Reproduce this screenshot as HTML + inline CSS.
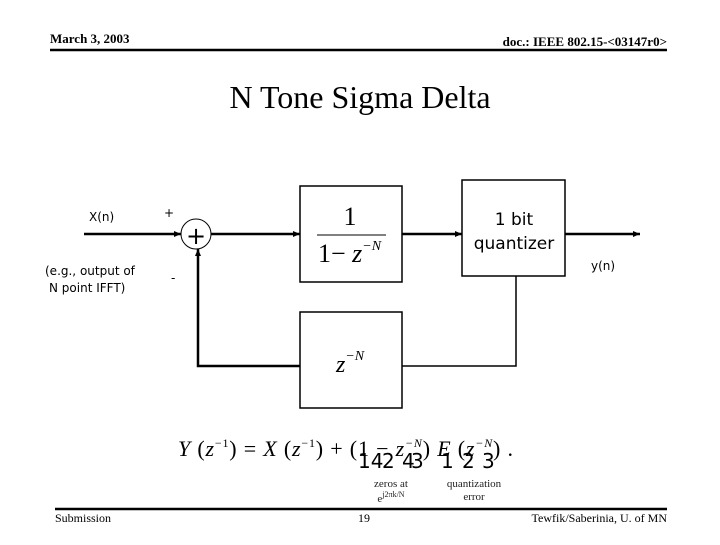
<!DOCTYPE html>
<html><head><meta charset="utf-8"><style>
body{margin:0;background:#fff;width:720px;height:540px;overflow:hidden}
</style></head><body>
<svg width="720" height="540" viewBox="0 0 720 540" xmlns="http://www.w3.org/2000/svg">
<defs><marker id="a" markerWidth="8" markerHeight="8" refX="7" refY="4" orient="auto" markerUnits="userSpaceOnUse"><path d="M0,1 L7,4 L0,7 z" fill="#000"/></marker></defs>
<g font-family="Liberation Serif, serif" font-weight="bold" font-size="13">
<text x="50" y="43">March 3, 2003</text>
<text x="667" y="46" text-anchor="end">doc.: IEEE 802.15-&lt;03147r0&gt;</text>
</g>
<line x1="50" y1="50" x2="667" y2="50" stroke="#000" stroke-width="2.5"/>
<text x="360" y="108" font-family="Liberation Serif, serif" font-size="32" text-anchor="middle">N Tone Sigma Delta</text>
<g font-family="DejaVu Sans, sans-serif" font-size="12" fill="#000">
<text x="89" y="221">X(n)</text>
<text x="45" y="275">(e.g., output of</text>
<text x="49" y="292">N point IFFT)</text>
<text x="164" y="217">+</text>
<text x="171" y="282">-</text>
<text x="591" y="270">y(n)</text>
</g>
<g stroke="#000" fill="none">
<line x1="84" y1="234" x2="181" y2="234" stroke-width="2.5" marker-end="url(#a)"/>
<circle cx="196" cy="234" r="15" stroke-width="1"/>
<line x1="211" y1="234" x2="300" y2="234" stroke-width="2.5" marker-end="url(#a)"/>
<rect x="300" y="186" width="102" height="96" stroke-width="1.5"/>
<line x1="402" y1="234" x2="462" y2="234" stroke-width="2.5" marker-end="url(#a)"/>
<rect x="462" y="180" width="103" height="96" stroke-width="1.5"/>
<line x1="565" y1="234" x2="640" y2="234" stroke-width="2.5" marker-end="url(#a)"/>
<polyline points="516,276 516,366 402,366" stroke-width="1.5"/>
<rect x="300" y="312" width="102" height="96" stroke-width="1.5"/>
<polyline points="300,366 198,366 198,249" stroke-width="2.5" marker-end="url(#a)"/>
</g>
<text x="196" y="244" font-family="DejaVu Sans, sans-serif" font-size="24" text-anchor="middle">+</text>
<g font-family="Liberation Serif, serif">
<text x="350" y="225" font-size="26" text-anchor="middle">1</text>
<line x1="317" y1="235" x2="386" y2="235" stroke="#000" stroke-width="1"/>
<text x="318" y="262" font-size="26">1− <tspan font-style="italic">z</tspan><tspan font-size="14" font-style="italic" dy="-12">−N</tspan></text>
<text x="336" y="372" font-size="24" font-style="italic">z<tspan font-size="14" dy="-12">−N</tspan></text>
</g>
<g font-family="DejaVu Sans, sans-serif" font-size="17" text-anchor="middle">
<text x="514" y="225">1 bit</text>
<text x="514" y="249">quantizer</text>
</g>
<g font-family="Liberation Serif, serif" font-size="22">
<text x="178" y="456" textLength="335" lengthAdjust="spacing"><tspan font-style="italic">Y</tspan> (<tspan font-style="italic">z</tspan><tspan font-size="12" dy="-9">−1</tspan><tspan dy="9">) = </tspan><tspan font-style="italic">X</tspan> (<tspan font-style="italic">z</tspan><tspan font-size="12" dy="-9">−1</tspan><tspan dy="9">) + (1 − </tspan><tspan font-style="italic">z</tspan><tspan font-size="12" dy="-9" font-style="italic">−N</tspan><tspan dy="9">) </tspan><tspan font-style="italic">E</tspan> (<tspan font-style="italic">z</tspan><tspan font-size="12" dy="-9" font-style="italic">−N</tspan><tspan dy="9">) .</tspan></text>
</g>
<g font-family="DejaVu Sans, sans-serif" font-size="20">
<text x="358" y="468">14</text>
<text x="382" y="468">2</text>
<text x="402" y="468">4</text>
<text x="411" y="468">3</text>
<text x="441" y="468">1</text>
<text x="462" y="468">2</text>
<text x="482" y="468">3</text>
</g>
<g font-family="Liberation Serif, serif" font-size="11" text-anchor="middle" fill="#222">
<text x="391" y="487">zeros at</text>
<text x="391" y="502">e<tspan font-size="8" dy="-5">j2πk/N</tspan></text>
<text x="474" y="487">quantization</text>
<text x="474" y="500">error</text>
</g>
<line x1="55" y1="509" x2="667" y2="509" stroke="#000" stroke-width="2.5"/>
<g font-family="Liberation Serif, serif" font-size="12">
<text x="55" y="522">Submission</text>
<text x="364" y="522" text-anchor="middle">19</text>
<text x="667" y="522" text-anchor="end">Tewfik/Saberinia, U. of MN</text>
</g>
</svg>
</body></html>
